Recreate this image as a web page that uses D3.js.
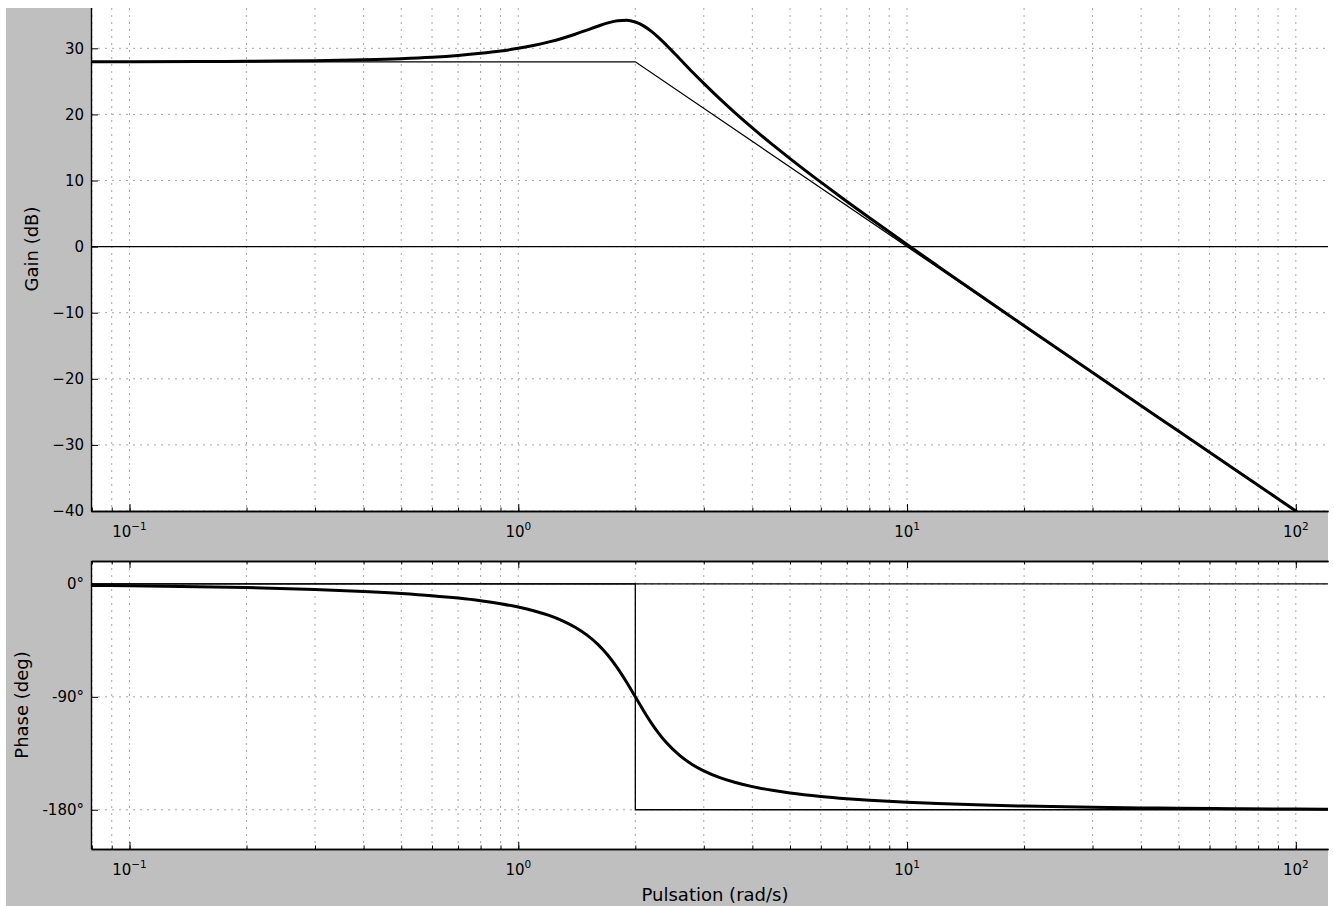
<!DOCTYPE html>
<html>
<head>
<meta charset="utf-8">
<script src="https://cdn.jsdelivr.net/npm/d3@7"></script>
<style>
  html, body { margin: 0; padding: 0; background: #fff; }
  svg { display: block; }
  text { font-family: "DejaVu Sans", sans-serif; fill: #000; }
</style>
</head>
<body>
<svg id="chart" width="1334" height="906"></svg>
<script>
// Values
const omega = [0.08, 0.1, 0.15, 0.2, 0.3, 0.4, 0.5, 0.6, 0.7, 0.8, 0.9, 1.0, 1.1, 1.2, 1.3, 1.4,
  1.5, 1.6, 1.7, 1.8, 1.9, 2.0, 2.1, 2.2, 2.3, 2.4, 2.6, 2.8, 3.0, 3.3, 3.6, 4, 4.5, 5, 6, 7, 8,
  10, 12, 15, 20, 30, 40, 50, 70, 100, 121];
const gainDb = [27.97, 27.98, 28.00, 28.04, 28.13, 28.27, 28.44, 28.66, 28.93, 29.24, 29.59, 30.00,
  30.46, 30.97, 31.53, 32.13, 32.75, 33.34, 33.85, 34.18, 34.25, 33.98, 33.40, 32.56, 31.58, 30.53,
  28.43, 26.46, 24.69, 22.34, 20.31, 17.96, 15.46, 13.32, 9.75, 6.83, 4.36, 0.31, -2.95, -6.91,
  -11.96, -19.05, -24.06, -27.95, -33.80, -40.00, -43.31];
const phaseDeg = [-1.15, -1.44, -2.16, -2.89, -4.39, -5.95, -7.59, -9.36, -11.28, -13.39, -15.76,
  -18.43, -21.52, -25.11, -29.37, -34.46, -40.60, -48.01, -56.86, -67.11, -78.40, -90.00, -101.05,
  -110.90, -119.29, -126.25, -136.71, -143.91, -149.04, -154.41, -158.11, -161.57, -164.52, -166.61,
  -169.38, -171.16, -172.41, -174.05, -175.10, -176.12, -177.11, -178.08, -178.56, -178.85, -179.18,
  -179.43, -179.53];

const asymGainW = [0.08, 2, 100, 121];
const asymGainDb = [27.96, 27.96, -40, -43.3];
const asymPhaseW = [0.08, 2, 2, 121];
const asymPhaseDeg = [0, 0, -180, -180];

const gainTicks = [30, 20, 10, 0, -10, -20, -30, -40];
const phaseTicks = [0, -90, -180];
const phaseTickLabels = ['0°', '-90°', '-180°'];
const decadeTicks = [0.1, 1, 10, 100];
const decadeExp = ['\u22121', '0', '1', '2'];

(function () {
  'use strict';

  const LEFT = 91;
  const RIGHT = 1328;
  const GAIN_BOX = { top: 8, bottom: 511 };
  const PHASE_BOX = { top: 561, bottom: 849 };
  const COLORS = {
    figure: '#bfbfbf',
    axes: '#ffffff',
    ink: '#000000',
    grid: '#a6a6a6'
  };

  const svg = d3.select('#chart');

  // Fond gris de la figure (l'image est rognée en haut, à gauche et à droite)
  svg.append('rect')
    .attr('x', 6).attr('y', 8)
    .attr('width', RIGHT - 6).attr('height', 906 - 8)
    .attr('fill', COLORS.figure);

  const x = d3.scaleLog().domain([0.0796, 121]).range([LEFT, RIGHT]);
  const yGain = d3.scaleLinear().domain([-40, 36.1]).range([GAIN_BOX.bottom, GAIN_BOX.top]);
  const yPhase = d3.scaleLinear().domain([-211.3, 18.3]).range([PHASE_BOX.bottom, PHASE_BOX.top]);

  const minorTicks = x.ticks();

  function panel(id, box, y, yTicks, yLabels, hasTop) {
    const g = svg.append('g').attr('class', id);

    g.append('clipPath').attr('id', 'clip-' + id)
      .append('rect')
      .attr('x', LEFT).attr('y', box.top)
      .attr('width', RIGHT - LEFT).attr('height', box.bottom - box.top);

    g.append('rect')
      .attr('x', LEFT).attr('y', box.top)
      .attr('width', RIGHT - LEFT).attr('height', box.bottom - box.top)
      .attr('fill', COLORS.axes);

    // Grille pointillée
    const grid = g.append('g').attr('clip-path', `url(#clip-${id})`);
    grid.selectAll('line.vx')
      .data(minorTicks)
      .join('line')
      .attr('class', 'vx')
      .attr('x1', d => x(d)).attr('x2', d => x(d))
      .attr('y1', box.top).attr('y2', box.bottom)
      .attr('stroke', COLORS.grid)
      .attr('stroke-width', 1)
      .attr('stroke-dasharray', '2,5');
    grid.selectAll('line.hy')
      .data(yTicks)
      .join('line')
      .attr('class', 'hy')
      .attr('x1', LEFT).attr('x2', RIGHT)
      .attr('y1', d => y(d)).attr('y2', d => y(d))
      .attr('stroke', COLORS.grid)
      .attr('stroke-width', 1)
      .attr('stroke-dasharray', '2,5');

    const plot = g.append('g').attr('clip-path', `url(#clip-${id})`);

    // Axes des x : graduations mineures et majeures vers l'intérieur
    const axisB = g.append('g').attr('transform', `translate(0,${box.bottom})`);
    axisB.call(d3.axisBottom(x).tickValues(minorTicks).tickSize(-3.5).tickSizeOuter(0).tickFormat(''));
    axisB.append('g').call(d3.axisBottom(x).tickValues(decadeTicks).tickSize(-7).tickSizeOuter(0).tickFormat(''));

    if (hasTop) {
      const axisT = g.append('g').attr('transform', `translate(0,${box.top})`);
      axisT.call(d3.axisTop(x).tickValues(minorTicks).tickSize(-3.5).tickSizeOuter(0).tickFormat(''));
      axisT.append('g').call(d3.axisTop(x).tickValues(decadeTicks).tickSize(-7).tickSizeOuter(0).tickFormat(''));
    }

    const axisL = g.append('g').attr('transform', `translate(${LEFT},0)`);
    axisL.call(d3.axisLeft(y).tickValues(yTicks).tickSize(-7).tickSizeOuter(0)
      .tickPadding(7).tickFormat((d, i) => yLabels[i]));
    axisL.select('.domain').attr('d', `M0.5,${box.top}V${box.bottom}`);

    g.selectAll('.domain').attr('stroke', COLORS.ink).attr('stroke-width', 1.4);
    g.selectAll('.tick line').attr('stroke', COLORS.ink).attr('stroke-width', 1);
    g.selectAll('.tick text')
      .attr('font-family', '"DejaVu Sans", sans-serif')
      .attr('font-size', 15)
      .attr('fill', COLORS.ink);

    // Étiquettes 10^n
    const lbl = g.selectAll('text.dec')
      .data(decadeTicks)
      .join('text')
      .attr('class', 'dec')
      .attr('x', d => x(d))
      .attr('y', box.bottom + 26)
      .attr('text-anchor', 'middle')
      .attr('font-size', 15);
    lbl.append('tspan').text('10');
    lbl.append('tspan')
      .attr('dy', -7)
      .attr('font-size', 10.5)
      .text((d, i) => decadeExp[i]);

    return plot;
  }

  const gainPlot = panel('gain', GAIN_BOX, yGain, gainTicks, gainTicks.map(d => d3.format('')(d)), false);
  const phasePlot = panel('phase', PHASE_BOX, yPhase, phaseTicks, phaseTickLabels, true);

  // Gain : ligne 0 dB, asymptote, courbe
  gainPlot.append('line')
    .attr('x1', LEFT).attr('x2', RIGHT)
    .attr('y1', yGain(0)).attr('y2', yGain(0))
    .attr('stroke', COLORS.ink).attr('stroke-width', 1.2);

  gainPlot.append('path')
    .datum(asymGainW.map((w, i) => [w, asymGainDb[i]]))
    .attr('d', d3.line().x(d => x(d[0])).y(d => yGain(d[1])))
    .attr('fill', 'none')
    .attr('stroke', COLORS.ink)
    .attr('stroke-width', 1.3);

  gainPlot.append('path')
    .datum(omega.map((w, i) => [w, gainDb[i]]))
    .attr('d', d3.line().x(d => x(d[0])).y(d => yGain(d[1])).curve(d3.curveMonotoneX))
    .attr('fill', 'none')
    .attr('stroke', COLORS.ink)
    .attr('stroke-width', 3);

  // Phase : ligne 0°, asymptote, courbe
  phasePlot.append('line')
    .attr('x1', LEFT).attr('x2', RIGHT)
    .attr('y1', yPhase(0)).attr('y2', yPhase(0))
    .attr('stroke', COLORS.ink).attr('stroke-width', 1.2);

  phasePlot.append('path')
    .datum(asymPhaseW.map((w, i) => [w, asymPhaseDeg[i]]))
    .attr('d', d3.line().x(d => x(d[0])).y(d => yPhase(d[1])))
    .attr('fill', 'none')
    .attr('stroke', COLORS.ink)
    .attr('stroke-width', 1.3);

  phasePlot.append('path')
    .datum(omega.map((w, i) => [w, phaseDeg[i]]))
    .attr('d', d3.line().x(d => x(d[0])).y(d => yPhase(d[1])).curve(d3.curveMonotoneX))
    .attr('fill', 'none')
    .attr('stroke', COLORS.ink)
    .attr('stroke-width', 3);

  // Titres des axes (figure rognée : centres décalés)
  svg.append('text')
    .attr('transform', 'translate(38,249) rotate(-90)')
    .attr('text-anchor', 'middle')
    .attr('font-size', 18)
    .text('Gain (dB)');

  svg.append('text')
    .attr('transform', `translate(27.5,${(PHASE_BOX.top + PHASE_BOX.bottom) / 2}) rotate(-90)`)
    .attr('text-anchor', 'middle')
    .attr('font-size', 18)
    .text('Phase (deg)');

  svg.append('text')
    .attr('x', 715).attr('y', 901)
    .attr('text-anchor', 'middle')
    .attr('font-size', 18)
    .text('Pulsation (rad/s)');
})();
</script>
</body>
</html>
